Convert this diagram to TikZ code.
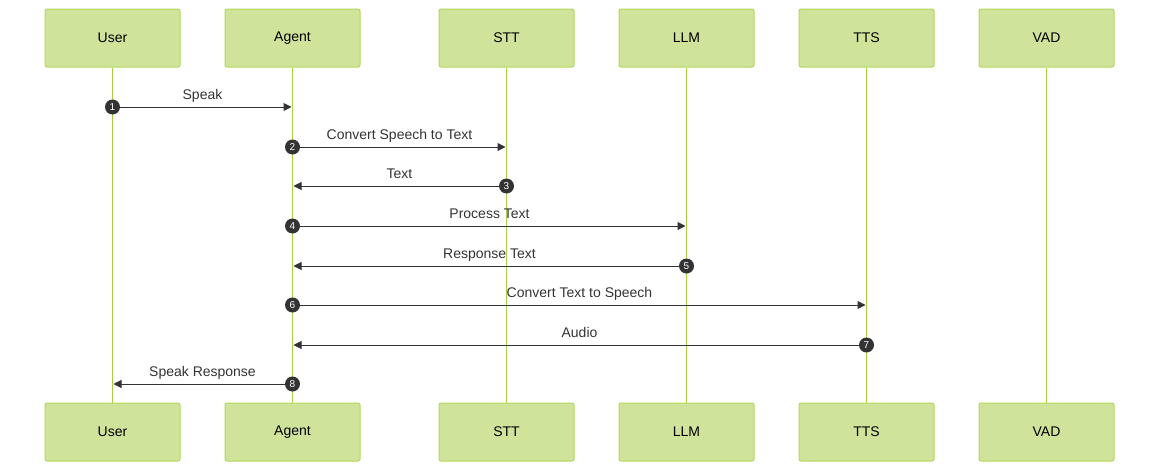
\documentclass[tikz,border=0pt]{standalone}
\usepackage{fontspec}
\setmainfont{Liberation Sans}
\usetikzlibrary{arrows.meta,calc}
\definecolor{boxfill}{HTML}{D0E39A}
\definecolor{boxline}{HTML}{B2D85A}
\definecolor{life}{HTML}{A9CF45}
\definecolor{ink}{HTML}{333333}
\begin{document}
\begin{tikzpicture}[x=1pt,y=-1pt,
  actor/.style={draw=boxline,fill=boxfill,rounded corners=2pt,minimum width=135pt,minimum height=58pt,inner sep=0pt,font=\fontsize{14}{16}\selectfont,line width=1pt},
  lifeline/.style={draw=life,line width=1.4pt},
  msg/.style={draw=ink,line width=1pt,shorten >=1pt,-{Triangle[length=8pt,width=8pt]}},
  num/.style={circle,fill=ink,text=white,inner sep=0pt,minimum size=15pt,font=\fontsize{10}{10}\selectfont},
  lbl/.style={font=\fontsize{14}{16}\selectfont,text=ink,anchor=base}]
\useasboundingbox (0,0) rectangle (1160,471);
\foreach \n/\t/\x in {u/User/112.5,a/Agent/292.5,s/STT/506.5,l/LLM/686.5,t/TTS/866.5,v/VAD/1046.5}{
  \node[actor] (\n T) at (\x,38) {\t};
  \node[actor] (\n B) at (\x,432) {\t};
  \draw[lifeline] (\n T) -- (\n B);
}
\foreach \i/\f/\g/\y/\txt in {1/u/a/107/Speak,2/a/s/147/Convert Speech to Text,3/s/a/186/Text,4/a/l/226/Process Text,5/l/a/266/Response Text,6/a/t/305/Convert Text to Speech,7/t/a/345/Audio,8/a/u/384/Speak Response}{
  \coordinate (m\i s) at (\f T.south |- 0,\y);
  \coordinate (m\i e) at (\g T.south |- 0,\y);
  \draw[msg] (m\i s) -- (m\i e);
  \node[num] (n\i) at (m\i s) {\i};
  \node[lbl] (t\i) at ($(m\i s)!0.5!(m\i e)+(0,-8)$) {\txt};
}
\end{tikzpicture}
\end{document}
